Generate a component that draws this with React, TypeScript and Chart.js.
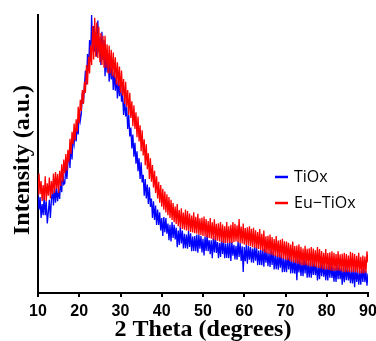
import React, { useEffect, useRef } from "react";
import { Chart, registerables } from "chart.js";

Chart.register(...registerables);

// 2-theta positions (degrees), 0.25 deg apart
const theta: number[] = [
  10, 10.25, 10.5, 10.75, 11, 11.25, 11.5, 11.75, 12, 12.25, 12.5, 12.75, 13, 13.25, 13.5, 13.75,
  14, 14.25, 14.5, 14.75, 15, 15.25, 15.5, 15.75, 16, 16.25, 16.5, 16.75, 17, 17.25, 17.5, 17.75,
  18, 18.25, 18.5, 18.75, 19, 19.25, 19.5, 19.75, 20, 20.25, 20.5, 20.75, 21, 21.25, 21.5, 21.75,
  22, 22.25, 22.5, 22.75, 23, 23.25, 23.5, 23.75, 24, 24.25, 24.5, 24.75, 25, 25.25, 25.5, 25.75,
  26, 26.25, 26.5, 26.75, 27, 27.25, 27.5, 27.75, 28, 28.25, 28.5, 28.75, 29, 29.25, 29.5, 29.75,
  30, 30.25, 30.5, 30.75, 31, 31.25, 31.5, 31.75, 32, 32.25, 32.5, 32.75, 33, 33.25, 33.5, 33.75,
  34, 34.25, 34.5, 34.75, 35, 35.25, 35.5, 35.75, 36, 36.25, 36.5, 36.75, 37, 37.25, 37.5, 37.75,
  38, 38.25, 38.5, 38.75, 39, 39.25, 39.5, 39.75, 40, 40.25, 40.5, 40.75, 41, 41.25, 41.5, 41.75,
  42, 42.25, 42.5, 42.75, 43, 43.25, 43.5, 43.75, 44, 44.25, 44.5, 44.75, 45, 45.25, 45.5, 45.75,
  46, 46.25, 46.5, 46.75, 47, 47.25, 47.5, 47.75, 48, 48.25, 48.5, 48.75, 49, 49.25, 49.5, 49.75,
  50, 50.25, 50.5, 50.75, 51, 51.25, 51.5, 51.75, 52, 52.25, 52.5, 52.75, 53, 53.25, 53.5, 53.75,
  54, 54.25, 54.5, 54.75, 55, 55.25, 55.5, 55.75, 56, 56.25, 56.5, 56.75, 57, 57.25, 57.5, 57.75,
  58, 58.25, 58.5, 58.75, 59, 59.25, 59.5, 59.75, 60, 60.25, 60.5, 60.75, 61, 61.25, 61.5, 61.75,
  62, 62.25, 62.5, 62.75, 63, 63.25, 63.5, 63.75, 64, 64.25, 64.5, 64.75, 65, 65.25, 65.5, 65.75,
  66, 66.25, 66.5, 66.75, 67, 67.25, 67.5, 67.75, 68, 68.25, 68.5, 68.75, 69, 69.25, 69.5, 69.75,
  70, 70.25, 70.5, 70.75, 71, 71.25, 71.5, 71.75, 72, 72.25, 72.5, 72.75, 73, 73.25, 73.5, 73.75,
  74, 74.25, 74.5, 74.75, 75, 75.25, 75.5, 75.75, 76, 76.25, 76.5, 76.75, 77, 77.25, 77.5, 77.75,
  78, 78.25, 78.5, 78.75, 79, 79.25, 79.5, 79.75, 80, 80.25, 80.5, 80.75, 81, 81.25, 81.5, 81.75,
  82, 82.25, 82.5, 82.75, 83, 83.25, 83.5, 83.75, 84, 84.25, 84.5, 84.75, 85, 85.25, 85.5, 85.75,
  86, 86.25, 86.5, 86.75, 87, 87.25, 87.5, 87.75, 88, 88.25, 88.5, 88.75, 89, 89.25, 89.5, 89.75,
  90,
];

// TiOx intensity (a.u.)
const tiox: number[] = [
  36, 30, 34.5, 27, 32, 28, 35, 28, 33, 25, 29, 33.5, 27, 33.5, 37, 31.5,
  38, 32.5, 38, 33, 37, 33.8, 41, 36.3, 44, 39, 39.5, 46, 41, 46.5, 51, 45,
  54, 48, 56, 53.5, 59, 54.5, 61, 57, 66, 62, 64.5, 72, 68, 74.5, 80, 75,
  86, 80.3, 91, 84, 100, 87.3, 96, 86.8, 94, 85, 98, 86.5, 92, 82, 94, 83.8,
  91, 78, 85.5, 79.3, 86, 76, 83.5, 76.8, 82, 73, 79.5, 72.8, 78, 70, 76.5, 70.8,
  76, 68.8, 71.5, 64, 70, 63.5, 67, 59, 64, 56.3, 59.5, 52, 57, 49, 54, 46.5,
  51, 43.8, 48.5, 41, 47, 39.8, 42.5, 35, 41, 34, 39, 32, 38, 31, 34, 27,
  33, 26.3, 31.5, 24.5, 30, 24.5, 29, 22.5, 27, 20.5, 27.3, 21.9, 27, 21.3, 25, 19,
  24.5, 18.5, 25.5, 19.8, 24.5, 19.3, 23.5, 16.5, 22.5, 17.3, 24, 17.8, 22.5, 16, 21.3, 16.1,
  21, 15.9, 22.5, 16.6, 21.5, 15, 20.3, 15.1, 20.5, 15, 21, 14.5, 21, 15.9, 20.5, 14.6,
  19.5, 13.5, 20.3, 15.1, 21, 15, 19, 14, 19, 12.5, 19.8, 14.6, 20.5, 14.4, 18.3, 12.5,
  18, 13, 19.5, 14, 19, 12.5, 17.8, 12.6, 18, 12.5, 18.5, 11.5, 18.5, 13.4, 17.3, 12.1,
  17, 12, 18.5, 13, 18, 11.5, 16.8, 7.6, 16.5, 11.4, 17.3, 10.5, 17, 12, 16.5, 11,
  16, 10.9, 17, 11.6, 16.5, 10, 15.3, 10.1, 15.5, 10, 16, 9.5, 16, 10.9, 14.8, 9.6,
  14.5, 9.4, 15.5, 10.1, 15, 8.5, 13.8, 8.6, 13.5, 8.4, 14.5, 9.1, 14, 7.5, 12.8, 7.6,
  12.5, 7.5, 14, 8.5, 13.5, 7, 12.3, 7.1, 12, 6.9, 12.8, 4.6, 12.5, 7.4, 11.8, 6.1,
  11, 6, 12.5, 7, 12, 5.5, 10.8, 5.6, 11, 5.5, 11.5, 6.5, 11.5, 6.4, 10.3, 4.5,
  10, 5, 11.5, 6, 11, 5.9, 9.8, 4.6, 10, 4.5, 10.5, 5.5, 11, 5.4, 9.3, 4.1,
  9, 4, 10, 5, 10, 5, 9, 3, 9, 3.9, 9.8, 4.6, 9.5, 4.5, 8.5, 3.5,
  8.5, 3.4, 9.3, 2.1, 9, 4, 8, 3, 8, 3, 9, 4, 9, 3.9, 7.8, 2.6,
  7,
];

// Eu-TiOx intensity (a.u.)
const euTiox: number[] = [
  35, 43, 35.5, 40.3, 33, 38.8, 33.5, 42, 33, 39.5, 35, 41.5, 34, 40.3, 35.5, 43,
  36, 43.5, 37.5, 42.8, 36, 44, 38.5, 46.3, 40, 48, 43, 50, 44, 51.5, 47, 55.5,
  50, 58, 53.5, 61, 55, 62.5, 58, 67, 61, 69.5, 65.5, 73, 68, 76, 72, 82,
  75, 85, 79, 89, 82, 96, 84, 99, 85, 97.3, 84.5, 95.8, 83, 93.5, 82, 92.5,
  81, 92.5, 81, 89.5, 79, 89, 79, 87.5, 78, 86.5, 77.5, 84.8, 75, 83, 74.5, 81.5,
  72, 80, 71, 77, 68, 76, 67, 73, 64, 72, 63, 69, 60, 67.5, 59, 65,
  56, 63.5, 54.5, 60.3, 51, 58.5, 49.5, 55.3, 46, 53.5, 44.5, 50.3, 41, 48.5, 40, 46,
  38, 44, 36, 42, 34, 40, 32.5, 38.8, 31, 37.5, 30, 36.5, 29, 35.5, 28, 34.5,
  27, 33.5, 26.3, 32.4, 25.5, 31.1, 24.8, 32, 24, 29.8, 23.5, 30.5, 23, 28.9, 22.8, 30,
  22.5, 29.5, 22.3, 28.6, 22, 27.9, 21.8, 29, 21.5, 27.4, 21.3, 28.5, 21, 26.9, 20.8, 27.1,
  20.5, 27.5, 20.3, 26.6, 20, 25.9, 19.8, 27, 19.5, 25.4, 19.3, 26.5, 19, 24.9, 18.8, 25.1,
  18.5, 25.5, 18.3, 24.6, 18, 24, 18, 25.5, 18, 24, 18, 24.5, 18, 25.5, 18.3, 24.9,
  18.5, 24.4, 18.3, 26.6, 18, 23.9, 17.8, 25, 17.5, 23.4, 17.3, 23.6, 17, 24, 16.8, 23.1,
  16.5, 23.5, 16.3, 22.6, 16, 21.9, 15.8, 23, 15.5, 21.3, 15, 22.5, 14.5, 20.4, 14.3, 20.6,
  14, 21, 13.8, 20.1, 13.5, 19.4, 13.3, 20.5, 13, 18.9, 12.8, 19.1, 12.5, 19.5, 12.3, 18.6,
  12, 18.5, 11.8, 18.1, 11.5, 17.4, 11.3, 18.5, 11, 16.9, 10.8, 17.1, 10.5, 17.5, 10.3, 16.6,
  10, 16, 10, 17, 10, 15.9, 9.8, 16.1, 9.5, 16.5, 9.5, 16, 9.5, 15.4, 9.3, 16.5,
  9, 15.8, 8.8, 15.1, 8.5, 14.5, 8.5, 15.8, 8.5, 14.4, 8.3, 14.6, 8, 15, 8, 14.5,
  8, 14, 8, 15, 8, 13.9, 7.8, 14.1, 7.5, 14.5, 7.5, 14, 7.5, 13.5, 7.5, 14.8,
  7.5, 14.5, 7.5, 14, 7.5, 13.4, 7.3, 14.5, 7, 13, 7, 13.5, 7, 13.1, 7.3, 15,
  11,
];

const xTicks: number[] = [10, 20, 30, 40, 50, 60, 70, 80, 90];
const seriesNames: string[] = ["TiOx", "Eu\u2212TiOx"];
const seriesColors: string[] = ["#0000ff", "#ff0000"];
const xTitle = "2 Theta (degrees)";
const yTitle = "Intensity (a.u.)";

const overlayPlugin = {
  id: "overlay",
  afterDraw(chart: any) {
    const ctx = chart.ctx;
    ctx.save();
    ctx.fillStyle = "#000";
    ctx.font = "bold 24px 'Liberation Serif'";
    ctx.textAlign = "center";
    ctx.textBaseline = "middle";
    ctx.fillText(xTitle, 203, 330);
    ctx.translate(23, 160);
    ctx.rotate(-Math.PI / 2);
    ctx.fillText(yTitle, 0, 0);
    ctx.restore();
    ctx.save();
    ctx.font = "16px 'Open Sans'";
    ctx.textAlign = "left";
    ctx.textBaseline = "middle";
    seriesNames.forEach((name, i) => {
      const y = 177 + i * 26;
      ctx.strokeStyle = seriesColors[i];
      ctx.lineWidth = 2.5;
      ctx.beginPath();
      ctx.moveTo(275, y);
      ctx.lineTo(288, y);
      ctx.stroke();
      ctx.fillStyle = "#000";
      ctx.fillText(name, 294, y);
    });
    ctx.restore();
  },
};

export default function App() {
  const ref = useRef<HTMLCanvasElement | null>(null);
  useEffect(() => {
    document.body.style.margin = "0";
    const canvas = ref.current;
    if (!canvas) return;
    const chart = new Chart(canvas, {
      type: "line",
      data: {
        datasets: [
          {
            label: seriesNames[0],
            data: theta.map((t, i) => ({ x: t, y: tiox[i] })),
            borderColor: seriesColors[0],
            borderWidth: 1.3,
            pointRadius: 0,
            tension: 0,
            order: 2,
          },
          {
            label: seriesNames[1],
            data: theta.map((t, i) => ({ x: t, y: euTiox[i] })),
            borderColor: seriesColors[1],
            borderWidth: 1.3,
            pointRadius: 0,
            tension: 0,
            order: 1,
          },
        ],
      },
      options: {
        animation: false,
        responsive: false,
        devicePixelRatio: 1,
        layout: { padding: { top: 15, right: 8, left: 0, bottom: 0 } },
        plugins: { legend: { display: false }, tooltip: { enabled: false } },
        scales: {
          x: {
            type: "linear",
            min: 10,
            max: 90,
            afterBuildTicks: (s: any) => {
              s.ticks = xTicks.map((v) => ({ value: v }));
            },
            afterFit: (s: any) => {
              s.height = 48;
              s.paddingRight = 0;
              s.paddingLeft = 0;
            },
            ticks: {
              color: "#000",
              padding: 5,
              maxRotation: 0,
              font: { family: "'Liberation Sans'", weight: "bold", size: 16 },
            },
            grid: {
              display: true,
              drawOnChartArea: false,
              drawTicks: true,
              tickLength: 4,
              color: "#000",
              lineWidth: 2,
            },
            border: { display: true, color: "#000", width: 2 },
          },
          y: {
            type: "linear",
            min: 0,
            max: 100,
            afterFit: (s: any) => {
              s.width = 38;
            },
            ticks: { display: false },
            grid: { display: false },
            border: { display: true, color: "#000", width: 2 },
          },
        },
      },
      plugins: [overlayPlugin],
    } as any);
    return () => chart.destroy();
  }, []);
  return (
    <div style={{ position: "absolute", left: 0, top: 0, width: 376, height: 341 }}>
      <canvas ref={ref} width={376} height={341} style={{ width: 376, height: 341 }} />
    </div>
  );
}
